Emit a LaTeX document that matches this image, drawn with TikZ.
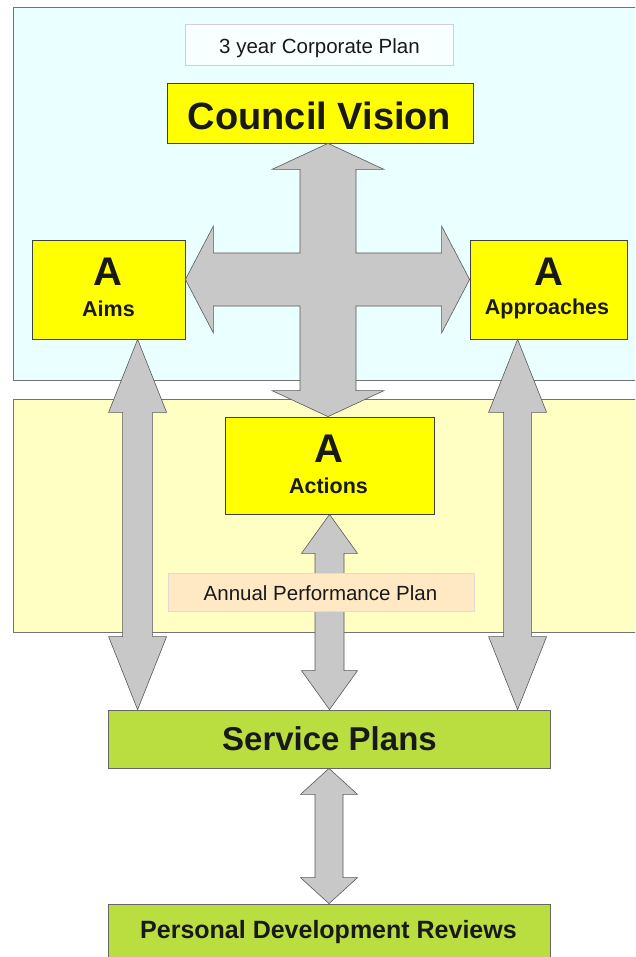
\documentclass[tikz,border=0pt]{standalone}
\usepackage{fontspec}
\setmainfont{Liberation Sans}
\usetikzlibrary{calc}

\definecolor{visionblue}{RGB}{234,255,255}
\definecolor{planyellow}{RGB}{255,255,196}
\definecolor{boxyellow}{RGB}{255,255,0}
\definecolor{leafgreen}{RGB}{186,222,64}
\definecolor{arrowgray}{RGB}{200,200,200}
\definecolor{notepeach}{RGB}{254,233,196}
\definecolor{notelilac}{RGB}{212,204,226}

\tikzset{
  panel/.style={draw=black!55, line width=1pt},
  ybox/.style={draw=black!75, fill=boxyellow, line width=0.8pt, inner sep=0pt},
  gbox/.style={draw=black!60, fill=leafgreen, line width=0.8pt, inner sep=0pt},
  note/.style={line width=0.8pt, inner sep=0pt},
  fatarrow/.style={draw=black!65, fill=arrowgray, line width=0.6pt, line join=miter},
  txt/.style={anchor=base, inner sep=0pt, text=black!90},
}

% fat double arrow: top tip, bottom tip, shaft half width, head half width, head length
\newcommand{\fatv}[5]{%
  \draw[fatarrow] (#1) -- ([shift={(#4,#5)}]#1) -- ([shift={(#3,#5)}]#1)
    -- ([shift={(#3,-#5)}]#2) -- ([shift={(#4,-#5)}]#2) -- (#2)
    -- ([shift={(-#4,-#5)}]#2) -- ([shift={(-#3,-#5)}]#2)
    -- ([shift={(-#3,#5)}]#1) -- ([shift={(-#4,#5)}]#1) -- cycle;}

\begin{document}
\begin{tikzpicture}[x=1pt,y=-1pt]
\useasboundingbox (0,0) rectangle (635,957);
\clip (0,0) rectangle (635,957);
\fill[white] (0,0) rectangle (635,957);

% panels
\draw[panel, fill=visionblue] (13,8) rectangle (660,380);
\draw[panel, fill=planyellow] (13,399) rectangle (660,632);

% boxes
\node[note, draw=notelilac, fill=visionblue!40!white, minimum width=268pt, minimum height=41pt] (plan3) at (319,44.5) {};
\node[ybox, minimum width=306pt, minimum height=60pt] (vision) at (320,113) {};
\node[ybox, minimum width=153pt, minimum height=99pt] (aims) at (108.5,289.5) {};
\node[ybox, minimum width=157pt, minimum height=99pt] (appr) at (548.5,289.5) {};
\node[ybox, minimum width=209pt, minimum height=97pt] (actions) at (329.5,465.5) {};
\node[gbox, minimum width=442pt, minimum height=58pt] (service) at (329,739) {};
\node[gbox, minimum width=442pt, minimum height=80pt] (pdr) at (329,944) {};

% arrows
\coordinate (hub) at (328,279.5);
\path (hub |- vision.south) coordinate (tipN) (hub |- actions.north) coordinate (tipS)
      (hub -| aims.east) coordinate (tipW) (hub -| appr.west) coordinate (tipE);
\draw[fatarrow] (tipN) -- ([shift={(56,26)}]tipN) -- ([shift={(28,26)}]tipN)
  -- ([shift={(28,-26.5)}]hub) -- ([shift={(-28,-26.5)}]tipE) -- ([shift={(-28,-53.5)}]tipE) -- (tipE)
  -- ([shift={(-28,53.5)}]tipE) -- ([shift={(-28,26.5)}]tipE) -- ([shift={(28,26.5)}]hub)
  -- ([shift={(28,-26)}]tipS) -- ([shift={(56,-26)}]tipS) -- (tipS)
  -- ([shift={(-56,-26)}]tipS) -- ([shift={(-28,-26)}]tipS) -- ([shift={(-28,26.5)}]hub)
  -- ([shift={(28,26.5)}]tipW) -- ([shift={(28,53.5)}]tipW) -- (tipW)
  -- ([shift={(28,-53.5)}]tipW) -- ([shift={(28,-26.5)}]tipW) -- ([shift={(-28,-26.5)}]hub)
  -- ([shift={(-28,26)}]tipN) -- ([shift={(-56,26)}]tipN) -- cycle;

\path (aims.south west) ++(106,0) coordinate (aimsTip);
\path (appr.south west) ++(48,0) coordinate (apprTip);
\coordinate (aimsBot) at (aimsTip |- service.north);
\coordinate (apprBot) at (apprTip |- service.north);
\coordinate (actBot) at (actions.south |- service.north);
\fatv{aimsTip}{aimsBot}{15}{29}{73}
\fatv{apprTip}{apprBot}{14}{29}{73}
\fatv{actions.south}{actBot}{14.5}{28}{39}
\fatv{service.south}{pdr.north}{14}{28.5}{26}

\node[note, draw=notelilac!60!notepeach, fill=notepeach, minimum width=306pt, minimum height=38pt] (annual) at (321,592) {};

% texts
\node[txt, font=\fontsize{20.5}{24}\selectfont] (plan3Lbl) at (319.5,54) {3 year Corporate Plan};
\node[txt, font=\fontsize{38}{42}\selectfont\bfseries] (visionLbl) at (319.5,130) {Council Vision};
\node[txt, font=\fontsize{40}{44}\selectfont\bfseries] (aimsA) at (108,286) {A};
\node[txt, font=\fontsize{21.5}{24}\selectfont\bfseries] (aimsLbl) at (108.5,316.5) {Aims};
\node[txt, font=\fontsize{40}{44}\selectfont\bfseries] (apprA) at (549,286) {A};
\node[txt, font=\fontsize{21.5}{24}\selectfont\bfseries] (apprLbl) at (547,314) {Approaches};
\node[txt, font=\fontsize{40}{44}\selectfont\bfseries] (actA) at (329,462) {A};
\node[txt, font=\fontsize{21.5}{24}\selectfont\bfseries] (actLbl) at (328.5,493) {Actions};
\node[txt, font=\fontsize{20.5}{24}\selectfont] (annualLbl) at (320.5,600) {Annual Performance Plan};
\node[txt, font=\fontsize{33}{36}\selectfont\bfseries] (serviceLbl) at (329.5,750) {Service Plans};
\node[txt, font=\fontsize{25}{28}\selectfont\bfseries] (pdrLbl) at (328.5,938) {Personal Development Reviews};
\end{tikzpicture}
\end{document}
